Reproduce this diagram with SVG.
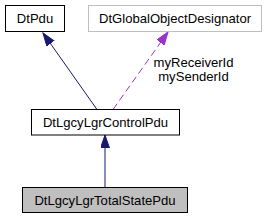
<svg xmlns="http://www.w3.org/2000/svg" width="268" height="219" viewBox="0 0 268 219">
<style>
text{font-family:"Liberation Sans",Arial,sans-serif;font-size:13.1px;fill:#000}
.n{text-anchor:middle}
.box{fill:#fff;stroke:#000;stroke-width:1}
.gray{fill:#fff;stroke:#bfbfbf;stroke-width:1}
.cur{fill:#bfbfbf;stroke:#000;stroke-width:1}
.inh{stroke:#191970;stroke-width:1;fill:none}
.use{stroke:#9a32cd;stroke-width:1;fill:none;stroke-dasharray:7,4}
</style>
<defs>
<marker id="an" markerUnits="userSpaceOnUse" markerWidth="14" markerHeight="10" refX="13" refY="4.5" orient="auto">
<path d="M0,0 L13,4.5 L0,9 z" fill="#191970" stroke="#191970" stroke-width="1"/>
</marker>
<marker id="ap" markerUnits="userSpaceOnUse" markerWidth="14" markerHeight="10" refX="13" refY="4.5" orient="auto">
<path d="M0,0 L13,4.5 L0,9 z" fill="#9a32cd" stroke="#9a32cd" stroke-width="1"/>
</marker>
</defs>
<g id="connectors">
<line class="inh" x1="97" y1="109.5" x2="43" y2="33" marker-end="url(#an)"/>
<line class="use" x1="113" y1="109.5" x2="168" y2="32" marker-end="url(#ap)"/>
<line class="inh" x1="105" y1="187.5" x2="105" y2="135" marker-end="url(#an)"/>
<text class="n" x="193.5" y="66.5">myReceiverId</text>
<text class="n" x="193.5" y="80.5">mySenderId</text>
</g>
<g id="DtPdu">
<rect class="box" x="5.5" y="5.5" width="59" height="26"/>
<text class="n" x="35" y="23">DtPdu</text>
</g>
<g id="DtGlobalObjectDesignator">
<rect class="gray" x="88.5" y="5.5" width="173" height="26"/>
<text class="n" x="175" y="23">DtGlobalObjectDesignator</text>
</g>
<g id="DtLgcyLgrControlPdu">
<rect class="box" x="31.5" y="109.5" width="148" height="25.5"/>
<text class="n" x="105.5" y="126.5">DtLgcyLgrControlPdu</text>
</g>
<g id="DtLgcyLgrTotalStatePdu">
<rect class="cur" x="22.5" y="187.5" width="165" height="25"/>
<text class="n" x="105" y="204.5">DtLgcyLgrTotalStatePdu</text>
</g>
</svg>
